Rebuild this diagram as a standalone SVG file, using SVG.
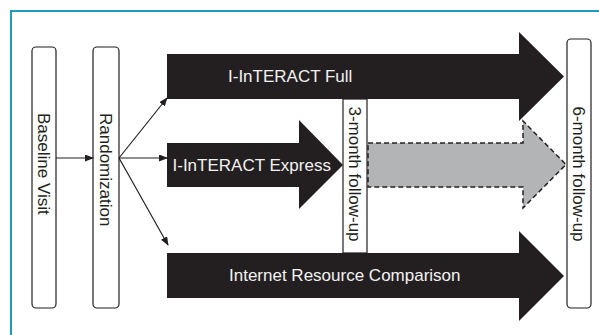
<svg xmlns="http://www.w3.org/2000/svg" width="599" height="335" viewBox="0 0 599 335">
<defs>
<style>
.frame{stroke:#1b9dbb;stroke-width:2;fill:none}
.box{fill:#fff;stroke:#231f20;stroke-width:1.2}
.arr{fill:#231f20}
.gray{fill:#b3b4b6;stroke:#231f20;stroke-width:1.5;stroke-dasharray:5 3}
.wt{font-family:"Liberation Sans",Arial,sans-serif;font-size:17px;fill:#f2f2f2}
.bt{font-family:"Liberation Sans",Arial,sans-serif;font-size:17px;fill:#231f20}
.con{stroke:#231f20;stroke-width:1.2;fill:none;marker-end:url(#ah)}
</style>
<marker id="ah" markerUnits="userSpaceOnUse" markerWidth="9" markerHeight="7" refX="8" refY="3.5" orient="auto">
<path d="M0,0 L9,3.5 L0,7 z" fill="#231f20"/>
</marker>
</defs>
<rect width="599" height="335" fill="#fff"/>
<path class="frame" d="M11,335 V11 H599"/>

<g id="baseline">
<rect class="box" x="32" y="47" width="24" height="261" rx="4"/>
<text class="bt" transform="translate(38,113) rotate(90)">Baseline Visit</text>
</g>
<g id="randomization">
<rect class="box" x="93" y="47" width="26" height="261" rx="4"/>
<text class="bt" transform="translate(100,113) rotate(90)">Randomization</text>
</g>
<g id="month3">
<rect class="box" x="343" y="99" width="24" height="154"/>
<text class="bt" text-anchor="middle" transform="translate(349,174) rotate(90)">3-month follow-up</text>
</g>
<g id="full">
<polygon class="arr" points="167,54 519,54 519,32 564,76.5 519,121 519,99 167,99"/>
<text class="wt" x="228" y="81.5">I-InTERACT Full</text>
</g>
<g id="express">
<polygon class="arr" points="167,143 299,143 299,120 343,165 299,209 299,187 167,187"/>
<text class="wt" x="172.5" y="171">I-InTERACT Express</text>
</g>
<g id="express-extension">
<polygon class="gray" points="368,143 523,143 523,121 566,164.5 523,208 523,187 368,187"/>
</g>
<g id="internet">
<polygon class="arr" points="167,253 519,253 519,231 564,276 519,321 519,298 167,298"/>
<text class="wt" x="229" y="281">Internet Resource Comparison</text>
</g>
<g id="month6">
<rect class="box" x="567" y="39" width="24" height="269" rx="4"/>
<text class="bt" text-anchor="middle" transform="translate(573,174) rotate(90)">6-month follow-up</text>
</g>
<g id="connectors">
<line class="con" x1="56" y1="158" x2="93" y2="158"/>
<line class="con" x1="119" y1="158" x2="167" y2="98"/>
<line class="con" x1="119" y1="158" x2="167" y2="158"/>
<line class="con" x1="119" y1="158" x2="168" y2="245"/>
</g>
</svg>
